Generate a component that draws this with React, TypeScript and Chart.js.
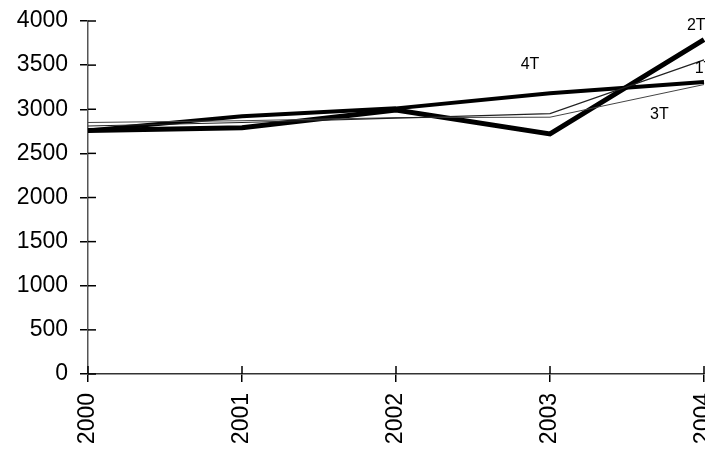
import React, { useEffect, useRef } from "react";
import { Chart, registerables } from "chart.js";

Chart.register(...registerables);

const years = ["2000", "2001", "2002", "2003", "2004"];
const series1T = [2810, 2850, 2900, 2950, 3560];
const series2T = [2760, 2790, 2990, 2720, 3790];
const series3T = [2850, 2870, 2905, 2910, 3280];
const series4T = [2760, 2920, 3010, 3180, 3310];
const yTicks = [0, 500, 1000, 1500, 2000, 2500, 3000, 3500, 4000];

// annotation labels: [text, x (category index), y (value)]
const seriesLabels: [string, number, number][] = [
  ["4T", 2.87, 3510],
  ["2T", 3.95, 3950],
  ["1T", 4.0, 3460],
  ["3T", 3.71, 2940],
];

const CANVAS_W = 720;
const CANVAS_H = 470;

const crossTicks = {
  id: "crossTicks",
  afterDraw(chart: any) {
    const { ctx, chartArea, scales } = chart;
    ctx.save();
    ctx.strokeStyle = "#000";
    ctx.lineWidth = 1.5;
    yTicks.forEach((v) => {
      const y = scales.y.getPixelForValue(v);
      ctx.beginPath();
      ctx.moveTo(chartArea.left, y);
      ctx.lineTo(chartArea.left + 8, y);
      ctx.stroke();
    });
    years.forEach((_, i) => {
      const x = scales.x.getPixelForValue(i);
      ctx.beginPath();
      ctx.moveTo(x, chartArea.bottom);
      ctx.lineTo(x, chartArea.bottom - 8);
      ctx.stroke();
    });
    ctx.restore();
  },
};

const seriesText = {
  id: "seriesText",
  afterDatasetsDraw(chart: any) {
    const { ctx, scales } = chart;
    ctx.save();
    ctx.fillStyle = "#000";
    ctx.font = "16px 'Liberation Sans', Arial, sans-serif";
    ctx.textAlign = "center";
    ctx.textBaseline = "middle";
    seriesLabels.forEach(([t, xi, yv]) => {
      ctx.fillText(t, scales.x.getPixelForValue(xi), scales.y.getPixelForValue(yv));
    });
    ctx.restore();
  },
};

export default function App() {
  const ref = useRef<HTMLCanvasElement | null>(null);
  useEffect(() => {
    if (!ref.current) return;
    const font = { family: "'Liberation Sans', Arial, sans-serif", size: 23 };
    const chart = new Chart(ref.current, {
      type: "line",
      data: {
        labels: years,
        datasets: [
          { label: "1T", data: series1T, borderColor: "#222", borderWidth: 1.2, pointRadius: 0, tension: 0 },
          { label: "3T", data: series3T, borderColor: "#444", borderWidth: 1, pointRadius: 0, tension: 0 },
          { label: "4T", data: series4T, borderColor: "#000", borderWidth: 4, pointRadius: 0, tension: 0 },
          { label: "2T", data: series2T, borderColor: "#000", borderWidth: 5, pointRadius: 0, tension: 0 },
        ],
      },
      options: {
        animation: false,
        responsive: false,
        events: [],
        layout: { padding: { top: 21, right: 16, left: 0, bottom: 0 } },
        plugins: { legend: { display: false }, tooltip: { enabled: false } },
        scales: {
          x: {
            offset: false,
            grid: { drawOnChartArea: false, drawTicks: true, tickLength: 8, color: "#000", lineWidth: 1.5 },
            border: { color: "#333", width: 1.5 },
            ticks: { color: "#000", font, minRotation: 90, maxRotation: 90, padding: 11, autoSkip: false },
            afterFit(scale: any) {
              scale.height = CANVAS_H - 374;
              scale.paddingLeft = 0;
              scale.paddingRight = 0;
            },
          },
          y: {
            min: 0,
            max: 4000,
            grid: { drawOnChartArea: false, drawTicks: true, tickLength: 8, color: "#000", lineWidth: 1.5 },
            border: { color: "#555", width: 1.5 },
            ticks: {
              color: "#000",
              font,
              stepSize: 500,
              padding: 12,
              callback: (v: any) => String(v),
            },
            afterFit(scale: any) {
              scale.width = 88;
              scale.paddingTop = 0;
              scale.paddingBottom = 0;
            },
          },
        },
      },
      plugins: [crossTicks, seriesText],
    });
    return () => chart.destroy();
  }, []);
  return (
    <div style={{ position: "fixed", left: 0, top: 0, width: 705, height: 451, overflow: "hidden", background: "#fff" }}>
      <canvas ref={ref} width={CANVAS_W} height={CANVAS_H} style={{ display: "block", width: CANVAS_W, height: CANVAS_H }} />
    </div>
  );
}
